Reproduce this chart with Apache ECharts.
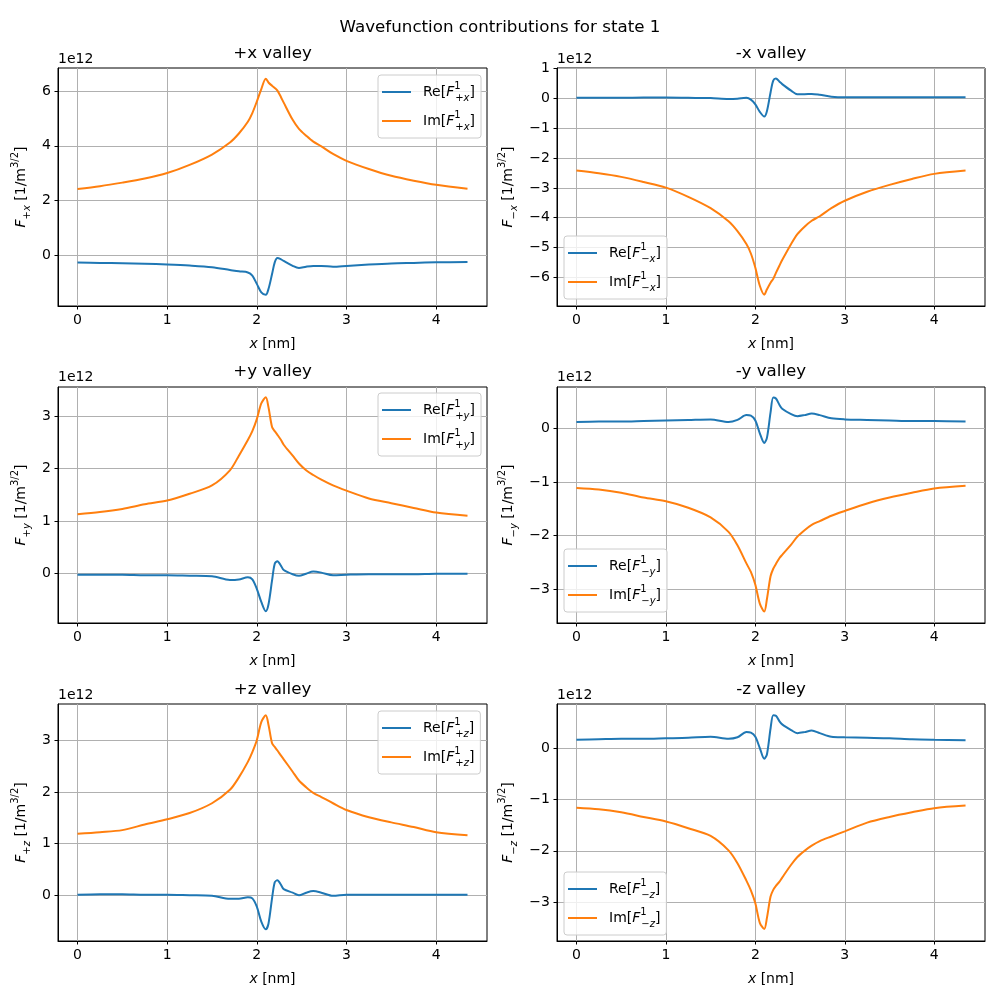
<!DOCTYPE html>
<html><head><meta charset="utf-8">
<script src="https://cdn.jsdelivr.net/npm/echarts@6/dist/echarts.min.js"></script>
<style>html,body{margin:0;padding:0;background:#fff}#c{width:1000px;height:1000px}</style>
</head><body><div id="c"></div>
<script>
// x positions [nm]
const X = [0, 0.25, 0.5, 0.75, 1.0, 1.25, 1.5, 1.7, 1.8, 1.9, 1.95, 2.0, 2.05, 2.1, 2.13, 2.17, 2.2, 2.23, 2.27, 2.3, 2.4, 2.47, 2.55, 2.63, 2.72, 2.85, 3.0, 3.25, 3.5, 3.75, 4.0, 4.35];
// values in units of 1e12 1/m^{3/2}
const rePlusX  = [-0.28,-0.29,-0.30,-0.32,-0.35,-0.39,-0.45,-0.55,-0.60,-0.64,-0.76,-1.06,-1.37,-1.46,-1.25,-0.70,-0.27,-0.11,-0.16,-0.22,-0.40,-0.48,-0.43,-0.40,-0.40,-0.43,-0.40,-0.35,-0.31,-0.29,-0.27,-0.26];
const imPlusX  = [2.42,2.52,2.65,2.80,3.00,3.30,3.68,4.12,4.45,4.88,5.20,5.62,6.08,6.46,6.32,6.20,6.12,6.02,5.78,5.58,4.95,4.62,4.37,4.15,3.98,3.70,3.45,3.15,2.90,2.72,2.57,2.43];
const reMinusX = [0.02,0.02,0.02,0.03,0.03,0.02,0.01,-0.02,-0.01,0.02,-0.04,-0.2,-0.45,-0.61,-0.42,0.20,0.60,0.67,0.56,0.48,0.26,0.14,0.14,0.15,0.12,0.06,0.04,0.04,0.04,0.04,0.04,0.04];
const imMinusX = [-2.42,-2.51,-2.63,-2.80,-2.99,-3.30,-3.68,-4.12,-4.45,-4.88,-5.20,-5.68,-6.28,-6.58,-6.40,-6.18,-6.05,-5.85,-5.60,-5.42,-4.88,-4.55,-4.30,-4.10,-3.95,-3.68,-3.43,-3.13,-2.90,-2.70,-2.53,-2.42];
const rePlusY  = [-0.03,-0.03,-0.03,-0.04,-0.04,-0.05,-0.06,-0.13,-0.12,-0.08,-0.12,-0.30,-0.55,-0.73,-0.60,-0.14,0.18,0.23,0.14,0.06,-0.02,-0.05,-0.01,0.03,0.01,-0.04,-0.03,-0.02,-0.02,-0.02,-0.01,-0.01];
const imPlusY  = [1.13,1.17,1.23,1.32,1.39,1.52,1.68,1.97,2.25,2.55,2.72,2.95,3.25,3.37,3.18,2.80,2.72,2.65,2.55,2.46,2.25,2.10,1.97,1.88,1.79,1.68,1.58,1.43,1.34,1.25,1.16,1.10];
const reMinusY = [0.12,0.13,0.13,0.14,0.15,0.16,0.17,0.12,0.16,0.25,0.24,0.15,-0.09,-0.27,-0.17,0.30,0.58,0.56,0.44,0.37,0.27,0.23,0.25,0.28,0.25,0.19,0.17,0.16,0.15,0.14,0.14,0.13];
const imMinusY = [-1.11,-1.14,-1.20,-1.29,-1.36,-1.48,-1.66,-1.93,-2.18,-2.52,-2.68,-2.92,-3.27,-3.42,-3.18,-2.76,-2.62,-2.53,-2.42,-2.36,-2.17,-2.02,-1.90,-1.80,-1.73,-1.63,-1.54,-1.40,-1.29,-1.20,-1.12,-1.07];
const rePlusZ  = [0.01,0.02,0.02,0.01,0.01,0.00,-0.01,-0.07,-0.07,-0.04,-0.06,-0.22,-0.51,-0.66,-0.55,-0.06,0.25,0.29,0.20,0.12,0.05,0.00,0.05,0.08,0.05,-0.01,0.01,0.01,0.01,0.01,0.01,0.01];
const imPlusZ  = [1.19,1.22,1.26,1.37,1.47,1.59,1.78,2.04,2.28,2.58,2.77,3.00,3.35,3.48,3.30,2.94,2.87,2.80,2.70,2.63,2.39,2.22,2.09,1.98,1.90,1.78,1.65,1.51,1.41,1.32,1.22,1.16];
const reMinusZ = [0.16,0.17,0.18,0.18,0.19,0.20,0.22,0.18,0.21,0.31,0.30,0.22,0.00,-0.21,-0.12,0.38,0.64,0.63,0.52,0.46,0.35,0.29,0.31,0.34,0.29,0.22,0.21,0.20,0.19,0.17,0.16,0.15];
const imMinusZ = [-1.16,-1.19,-1.25,-1.34,-1.43,-1.56,-1.71,-1.99,-2.24,-2.58,-2.77,-3.02,-3.40,-3.52,-3.30,-2.89,-2.76,-2.68,-2.60,-2.52,-2.27,-2.12,-2.00,-1.90,-1.81,-1.72,-1.62,-1.45,-1.34,-1.25,-1.17,-1.12];

const xTicks = [0, 1, 2, 3, 4];
const yTicksPlusX = [0, 2, 4, 6];
const yTicksMinusX = [1, 0, -1, -2, -3, -4, -5, -6];
const yTicksPlusY = [0, 1, 2, 3];
const yTicksMinusY = [0, -1, -2, -3];
const yTicksPlusZ = [0, 1, 2, 3];
const yTicksMinusZ = [0, -1, -2, -3];

const suptitle = 'Wavefunction contributions for state 1';
const panelTitles = ['+x valley', '-x valley', '+y valley', '-y valley', '+z valley', '-z valley'];
const valleySubs = ['+x', '−x', '+y', '−y', '+z', '−z'];
const offsetText = '1e12';

const FONT = 'DejaVu Sans';
const BLUE = '#1f77b4', ORANGE = '#ff7f0e';

const panels = [
  {re: rePlusX,  im: imPlusX,  yt: yTicksPlusX,  ymin: -1.87, ymax: 6.85, g: [58, 68, 429, 238], lg: [378, 75],  ng: 26, row: 0},
  {re: reMinusX, im: imMinusX, yt: yTicksMinusX, ymin: -6.96, ymax: 1.02, g: [557, 68, 428, 238], lg: [564, 236], ng: 38, row: 0},
  {re: rePlusY,  im: imPlusY,  yt: yTicksPlusY,  ymin: -0.955, ymax: 3.566, g: [58, 387, 429, 236], lg: [378, 393], ng: 26, row: 1},
  {re: reMinusY, im: imMinusY, yt: yTicksMinusY, ymin: -3.633, ymax: 0.775, g: [557, 387, 428, 236], lg: [564, 549], ng: 38, row: 1},
  {re: rePlusZ,  im: imPlusZ,  yt: yTicksPlusZ,  ymin: -0.885, ymax: 3.70, g: [58, 704, 429, 237], lg: [378, 711], ng: 26, row: 2},
  {re: reMinusZ, im: imMinusZ, yt: yTicksMinusZ, ymin: -3.754, ymax: 0.857, g: [557, 704, 428, 237], lg: [564, 872], ng: 38, row: 2}
];
const titleY = [54, 372, 690];
const offY = [60, 378, 696];

const minus = v => String(v).replace('-', '−');
const richBase = {
  n:  {fontFamily: FONT, fontSize: 14, color: '#000', lineHeight: 22, verticalAlign: 'middle'},
  i:  {fontFamily: FONT, fontSize: 14, fontStyle: 'italic', color: '#000', lineHeight: 22, verticalAlign: 'middle'},
  sup:{fontFamily: FONT, fontSize: 10, color: '#000', lineHeight: 22, verticalAlign: 'top', width: 1},
  sb: {fontFamily: FONT, fontSize: 10, color: '#000', lineHeight: 22, verticalAlign: 'bottom'},
  sbi:{fontFamily: FONT, fontSize: 10, fontStyle: 'italic', color: '#000', lineHeight: 22, verticalAlign: 'bottom'},
  p:  {fontFamily: FONT, fontSize: 10, color: '#000', lineHeight: 22, verticalAlign: 'top'},
  gap:{width: 7, lineHeight: 22}
};

const grid = [], xAxis = [], yAxis = [], series = [], legend = [], title = [], graphic = [];
title.push({text: suptitle, left: 500, top: 19, textAlign: 'center', padding: 0,
  textStyle: {fontFamily: FONT, fontSize: 16.7, fontWeight: 'normal', color: '#000'}});

panels.forEach((p, k) => {
  const sub = valleySubs[k];
  const sign = sub[0], letter = sub[1];
  grid.push({left: p.g[0], top: p.g[1], width: p.g[2], height: p.g[3], show: true,
    borderColor: '#000', borderWidth: 1, backgroundColor: 'transparent', outerBoundsMode: 'none', containLabel: false});
  xAxis.push({type: 'value', gridIndex: k, min: -0.2175, max: 4.5675,
    name: '{i|x}{n| [nm]}', nameLocation: 'middle', nameGap: 27, nameMoveOverlap: false,
    nameTextStyle: {rich: richBase},
    axisLine: {show: true, onZero: false, lineStyle: {color: '#000', width: 1}},
    axisTick: {show: true, inside: false, length: 3.5, customValues: xTicks, lineStyle: {color: '#000', width: 1}},
    axisLabel: {show: true, customValues: xTicks, margin: 7, fontFamily: FONT, fontSize: 14, color: '#000', formatter: minus},
    splitLine: {show: true, lineStyle: {color: '#b0b0b0', width: 1}}
  });
  yAxis.push({type: 'value', gridIndex: k, min: p.ymin, max: p.ymax,
    name: `{i|F}{sb|${sign}}{sbi|${letter}}{n| [1/m}{p|3/2}{n|]}`, nameLocation: 'middle', nameRotate: 90, nameGap: p.ng, nameMoveOverlap: false,
    nameTextStyle: {rich: richBase},
    axisLine: {show: true, onZero: false, lineStyle: {color: '#000', width: 1}},
    axisTick: {show: true, inside: false, length: 3.5, customValues: p.yt, lineStyle: {color: '#000', width: 1}},
    axisLabel: {show: true, customValues: p.yt, margin: 7, fontFamily: FONT, fontSize: 14, color: '#000', formatter: minus},
    splitLine: {show: true, lineStyle: {color: '#b0b0b0', width: 1}}
  });
  const reName = 'Re' + sub, imName = 'Im' + sub;
  series.push({name: reName, type: 'line', xAxisIndex: k, yAxisIndex: k, data: X.map((x, j) => [x, p.re[j]]),
    symbol: 'none', showSymbol: false, smooth: 0.3, lineStyle: {color: BLUE, width: 2}, itemStyle: {color: BLUE}, z: 3});
  series.push({name: imName, type: 'line', xAxisIndex: k, yAxisIndex: k, data: X.map((x, j) => [x, p.im[j]]),
    symbol: 'none', showSymbol: false, smooth: 0.3, lineStyle: {color: ORANGE, width: 2}, itemStyle: {color: ORANGE}, z: 3});
  legend.push({data: [reName, imName], orient: 'vertical', left: p.lg[0], top: p.lg[1],
    backgroundColor: 'rgba(255,255,255,0.8)', borderColor: '#cccccc', borderWidth: 1, borderRadius: 3,
    padding: [6, 6, 6, 4], itemGap: 7, itemWidth: 29, itemHeight: 2, icon: 'rect', z: 10,
    formatter: name => {
      const kind = name.slice(0, 2);
      return `{gap|}{n|${kind}[}{i|F}{sup|1}{sb|${sign}}{sbi|${letter}}{n|]}`;
    },
    textStyle: {fontFamily: FONT, fontSize: 14, lineHeight: 22, color: '#000', rich: richBase}
  });
  const cx = p.g[0] + p.g[2] / 2;
  title.push({text: panelTitles[k], left: cx, top: titleY[p.row] - 9, textAlign: 'center', padding: 0,
    textStyle: {fontFamily: FONT, fontSize: 16.7, fontWeight: 'normal', color: '#000'}});
  graphic.push({type: 'text', left: p.g[0], top: offY[p.row] - 8,
    style: {text: offsetText, fontFamily: FONT, fontSize: 14, fill: '#000'}});
});

const chart = echarts.init(document.getElementById('c'), null, {renderer: 'canvas'});
chart.setOption({backgroundColor: '#fff', animation: false, title, grid, xAxis, yAxis, series, legend, graphic});
</script></body></html>
